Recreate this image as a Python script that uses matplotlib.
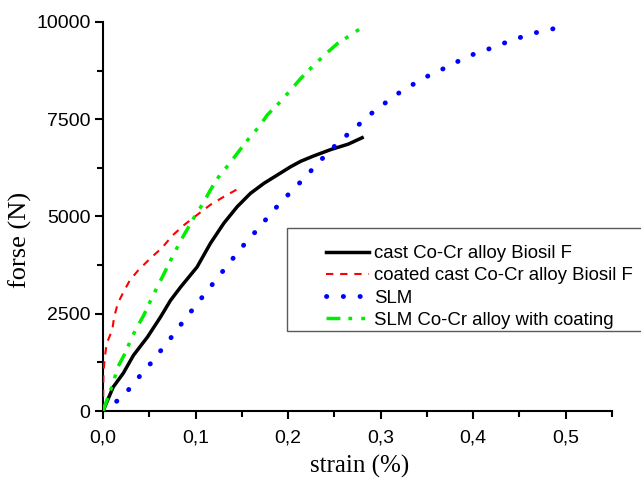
import matplotlib
matplotlib.use("Agg")
import matplotlib.pyplot as plt
from matplotlib.ticker import MultipleLocator, FuncFormatter
from matplotlib.patches import Rectangle

# Data (strain %, force N)
cast_x = [0.0, 0.011, 0.022, 0.033, 0.048, 0.062, 0.073, 0.084, 0.1016, 0.1161, 0.1305,
          0.145, 0.1594, 0.1739, 0.1884, 0.2028, 0.2137, 0.228, 0.246, 0.265, 0.280]
cast_y = [0, 615, 975, 1435, 1900, 2410, 2845, 3190, 3700, 4311, 4825,
          5252, 5596, 5853, 6067, 6280, 6420, 6560, 6720, 6860, 7025]

coated_x = [0.0, 0.0005, 0.002, 0.004, 0.010, 0.012, 0.016, 0.022, 0.029, 0.038, 0.051,
            0.064, 0.075, 0.087, 0.1016, 0.116, 0.130, 0.148]
coated_y = [0, 1000, 1385, 1740, 2080, 2410, 2770, 3050, 3360, 3615, 3920,
            4200, 4510, 4770, 5040, 5300, 5500, 5740]

slm_x = [0.0, 0.011, 0.022, 0.030, 0.038, 0.050, 0.062, 0.074, 0.086, 0.097, 0.107,
         0.119, 0.131, 0.143, 0.156, 0.169, 0.182, 0.198, 0.216, 0.230, 0.244,
         0.260, 0.275, 0.289, 0.305, 0.320, 0.336, 0.351, 0.367, 0.382, 0.398,
         0.414, 0.430, 0.446, 0.461, 0.476, 0.491]
slm_y = [0, 180, 385, 615, 850, 1180, 1540, 1900, 2280, 2615, 2920,
         3280, 3640, 4000, 4380, 4720, 5100, 5510, 5950, 6310, 6670,
         7020, 7330, 7630, 7920, 8180, 8410, 8610, 8790, 8970, 9150,
         9280, 9430, 9560, 9690, 9770, 9850]

slmc_x = [0.0, 0.011, 0.016, 0.024, 0.029, 0.035, 0.044, 0.053, 0.064, 0.073, 0.084,
          0.098, 0.109, 0.116, 0.125, 0.137, 0.145, 0.154, 0.170, 0.1775, 0.190,
          0.2046, 0.2137, 0.228, 0.2426, 0.2535, 0.268, 0.2823]
slmc_y = [0, 720, 1130, 1490, 1770, 2080, 2460, 2920, 3440, 3870, 4380,
          4960, 5370, 5680, 6020, 6370, 6620, 6900, 7350, 7610, 7910,
          8300, 8550, 8895, 9220, 9450, 9670, 9900]

labels = ["cast Co-Cr alloy Biosil F", "coated cast Co-Cr alloy Biosil F",
          "SLM", "SLM Co-Cr alloy with coating"]
xticks_major = [0.0, 0.1, 0.2, 0.3, 0.4, 0.5]
yticks_major = [0, 2500, 5000, 7500, 10000]

W, H = 641, 484
fig = plt.figure(figsize=(W / 100, H / 100), dpi=100)
ax = fig.add_axes([103/W, 1-411/H, (612-103)/W, (411-22)/H])

ax.plot(cast_x, cast_y, color="black", lw=2.5, label=labels[0], zorder=3)
ax.plot(coated_x, coated_y, color="#ff0000", lw=1.5, linestyle=(0, (3.5, 3.3)),
        label=labels[1], zorder=3)
ax.plot(slm_x, slm_y, color="#0000ff", lw=3.5, linestyle=(0, (0.05, 3.4)),
        dash_capstyle="round", label=labels[2], zorder=3)
ax.plot(slmc_x, slmc_y, color="#00ee00", lw=2.5,
        linestyle=(0, (4.0, 2.3, 1.1, 2.6, 1.1, 2.6)), label=labels[3], zorder=3)

ax.set_xlim(0, 0.55)
ax.set_ylim(0, 10000)
ax.spines["top"].set_visible(False)
ax.spines["right"].set_visible(False)
for s in ("left", "bottom"):
    ax.spines[s].set_linewidth(1.5)

ax.set_xticks(xticks_major)
ax.set_yticks(yticks_major)
ax.xaxis.set_minor_locator(MultipleLocator(0.05))
ax.yaxis.set_minor_locator(MultipleLocator(1250))
ax.xaxis.set_major_formatter(FuncFormatter(lambda v, p: f"{v:.1f}".replace(".", ",")))
ax.yaxis.set_major_formatter(FuncFormatter(lambda v, p: f"{int(round(v))}"))
ax.tick_params(which="both", direction="out", width=1.5, colors="black")
ax.tick_params(which="major", length=6)
ax.tick_params(which="minor", length=4)
for lab in ax.get_xticklabels() + ax.get_yticklabels():
    lab.set_fontfamily("Liberation Sans")
    lab.set_fontsize(14)
ax.tick_params(axis="x", pad=7)
ax.tick_params(axis="y", pad=3)

fig.text(359.5/W, 1-466/H, "strain (%)", family="Liberation Serif", fontsize=18,
         ha="center", va="center")
fig.text(20/W, 1-240/H, "forse (N)", family="Liberation Serif", fontsize=19,
         ha="center", va="center", rotation=90)

# legend frame (extends beyond right edge as in the reference)
frame = Rectangle((287/W, 1-331/H), (700-287)/W, (331-228)/H,
                  transform=fig.transFigure, fill=True, facecolor="white",
                  edgecolor="#5a5a5a", lw=1.0, zorder=4, clip_on=False)
ax.add_artist(frame)
leg = ax.legend(loc="upper left", bbox_to_anchor=(326/W, 1-245/H),
                bbox_transform=fig.transFigure, frameon=False,
                prop={"family": "Liberation Sans", "size": 13.4},
                handlelength=2.3, handletextpad=0.27, labelspacing=0.28,
                borderpad=0, borderaxespad=0)
leg.set_zorder(5)

fig.savefig("out.png", dpi=100)
